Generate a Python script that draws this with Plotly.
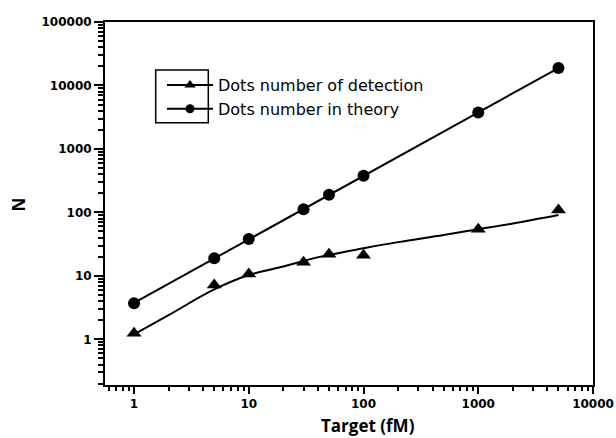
import plotly.graph_objects as go

# Data
conc = [1, 5, 10, 30, 50, 100, 1000, 5000]
detected = [1.25, 7.2, 10.7, 16.4, 21.9, 21.1, 54, 109]
theory = [3.7, 19, 38, 112, 189, 377, 3750, 18800]

# Fitted curve through detected dots
fit_x = [1, 2, 5, 10, 20, 30, 50, 100, 200, 500, 1000, 2000, 5000]
fit_det = [1.2, 2.4, 6.1, 10.3, 14.0, 17.2, 21.4, 27.2, 34, 44, 54.3, 67, 91]
# Straight theory fit line endpoints
theory_fit_x = [1, 5000]
theory_fit_y = [3.75, 18800]

x_tickvals = [1, 10, 100, 1000, 10000]
x_ticktext = ["1", "10", "100", "1000", "10000"]
y_tickvals = [1, 10, 100, 1000, 10000, 100000]
y_ticktext = ["1", "10", "100", "1000", "10000", "100000"]

names = ["Dots number of detection", "Dots number in theory"]

fig = go.Figure()
# fit lines
fig.add_trace(go.Scatter(x=fit_x, y=fit_det, mode="lines", line=dict(color="black", width=2, shape="spline", smoothing=1.1),
                         showlegend=False, hoverinfo="skip"))
fig.add_trace(go.Scatter(x=theory_fit_x, y=theory_fit_y, mode="lines", line=dict(color="black", width=2),
                         showlegend=False, hoverinfo="skip"))
# markers
fig.add_trace(go.Scatter(x=conc, y=detected, mode="markers", name=names[0],
                         marker=dict(symbol="triangle-up", size=13, color="black"), showlegend=False))
fig.add_trace(go.Scatter(x=conc, y=theory, mode="markers", name=names[1],
                         marker=dict(symbol="circle", size=12, color="black"), showlegend=False))
# legend entries
fig.add_trace(go.Scatter(x=[None], y=[None], mode="lines+markers", name=names[0],
                         line=dict(color="black", width=2),
                         marker=dict(symbol="triangle-up", size=10, color="black")))
fig.add_trace(go.Scatter(x=[None], y=[None], mode="lines+markers", name=names[1],
                         line=dict(color="black", width=2),
                         marker=dict(symbol="circle", size=9, color="black")))

L, R, T, B = 105, 23, 22, 53
W, H = 616, 438
pw, ph = W - L - R, H - T - B

def px(xp):
    return (xp - L) / pw

def py(yp):
    return (H - B - yp) / ph

tickfont = dict(size=12, family="DejaVu Sans, Liberation Sans, sans-serif", weight="bold")

fig.update_layout(
    width=W, height=H,
    margin=dict(l=L, r=R, t=T, b=B, pad=0, autoexpand=False),
    paper_bgcolor="white", plot_bgcolor="white",
    font=dict(family="Liberation Sans, Arial, sans-serif", color="black"),
    showlegend=True,
    legend=dict(x=px(162), y=py(68), xanchor="left", yanchor="top",
                bgcolor="rgba(0,0,0,0)", borderwidth=0,
                font=dict(size=16, family="DejaVu Sans, Liberation Sans, sans-serif"),
                itemwidth=46, tracegroupgap=0),
    xaxis=dict(type="log", range=[-0.253, 4], tickvals=x_tickvals, ticktext=x_ticktext,
               automargin=False,
               showgrid=False, zeroline=False, showline=True, linecolor="black", linewidth=2,
               mirror=True, ticks="outside", ticklen=7, tickwidth=2, tickcolor="black",
               tickfont=tickfont,
               minor=dict(ticks="outside", ticklen=4, tickwidth=2, tickcolor="black", dtick="D1", showgrid=False)),
    yaxis=dict(type="log", range=[-0.72, 5.0], tickvals=y_tickvals, ticktext=y_ticktext,
               automargin=False,
               showgrid=False, zeroline=False, showline=True, linecolor="black", linewidth=2,
               mirror=True, ticks="outside", ticklen=9, tickwidth=2, tickcolor="black",
               tickfont=tickfont,
               minor=dict(ticks="outside", ticklen=5, tickwidth=1.5, tickcolor="black", dtick="D1", showgrid=False)),
    shapes=[dict(type="rect", xref="paper", yref="paper",
                 x0=px(155.7), x1=px(208.3), y0=py(122.7), y1=py(70),
                 line=dict(color="black", width=1.5), fillcolor="rgba(0,0,0,0)")],
    annotations=[
        dict(text="<b>Target (fM)</b>", xref="paper", yref="paper", x=px(368), y=py(426),
             xanchor="center", yanchor="middle", showarrow=False,
             font=dict(size=17, family="Open Sans, Liberation Sans, sans-serif")),
        dict(text="<b>N</b>", xref="paper", yref="paper", x=px(17.5), y=py(205),
             xanchor="center", yanchor="middle", showarrow=False, textangle=-90,
             font=dict(size=17, family="Open Sans, Liberation Sans, sans-serif")),
    ],
)

fig.write_html("out.html", config={"displayModeBar": False},
               post_script="document.body.style.margin='0px';document.body.style.overflow='hidden';")
